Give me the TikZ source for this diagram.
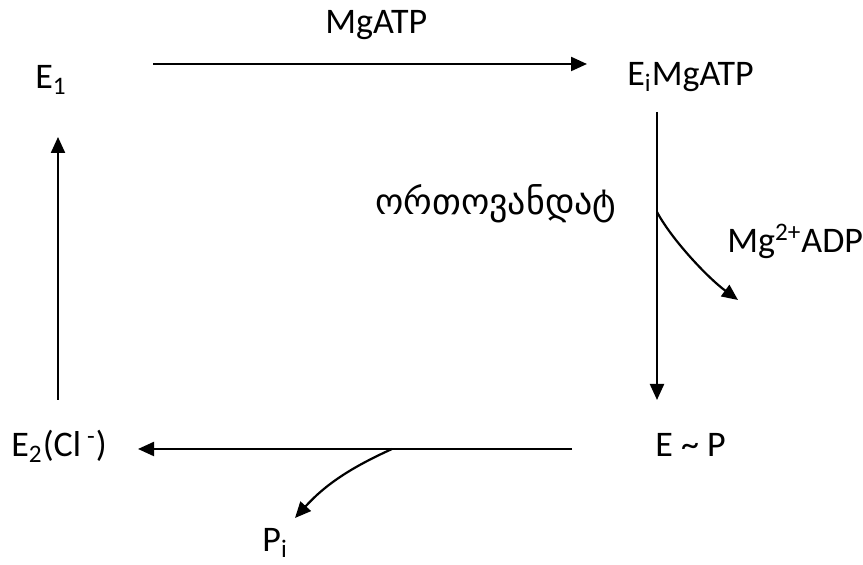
\documentclass[tikz,border=0pt]{standalone}
\usepackage{fontspec}
\setmainfont{Carlito}
\newfontfamily\geofont{DejaVu Sans}
\usetikzlibrary{arrows.meta}

\begin{document}
\begin{tikzpicture}[
  x=0.5pt, y=-0.5pt,
  every node/.style={inner sep=0pt, font=\fontsize{18}{21}\selectfont},
  lbl/.style={anchor=base west},
  arrow/.style={draw, line width=1.1pt, -{Triangle[length=8pt, width=7pt]}}]

  \useasboundingbox (0,0) rectangle (863,565);

  % --- the four states of the cycle ---
  \node[lbl] (e1)   at (35,89)   {E\textsubscript{1}};
  \node[lbl] (eimg) at (627,86)  {E\textsubscript{i}MgATP};
  \node[lbl] (ep)   at (655,457) {E \textasciitilde{} P};
  \node[lbl] (e2)   at (11,457)  {E\textsubscript{2}(Cl\,\textsuperscript{-})};

  % --- what enters and leaves ---
  \node[lbl] (mgatp) at (325,34)  {MgATP};
  \node[lbl] (orth)  at (375,215) {\geofont\fontsize{18}{21}\selectfont ორთოვანდატ};
  \node[lbl] (mgadp) at (727,253) {Mg\textsuperscript{2+}ADP};
  \node[lbl] (pi)    at (262,552) {P\textsubscript{i}};

  % --- arrow ends ---
  \coordinate (t1) at (153,64);  \coordinate (t2) at (587,64);
  \coordinate (r1) at (657,112); \coordinate (r2) at (657,400);
  \coordinate (rb) at (657,212); \coordinate (rt) at (738,300);
  \coordinate (b1) at (572,449); \coordinate (b2) at (138,449);
  \coordinate (bb) at (392,449); \coordinate (bt) at (295,518);
  \coordinate (l1) at (58,400);  \coordinate (l2) at (58,137);

  % --- the cycle ---
  \draw[arrow] (t1) -- (t2);
  \draw[arrow] (r1) -- (r2);
  \draw[arrow] (b1) -- (b2);
  \draw[arrow] (l1) -- (l2);

  % --- side branches ---
  \draw[arrow] (rb) .. controls (672,240) and (708,278) .. (rt);
  \draw[arrow] (bb) .. controls (350,468) and (325,485) .. (bt);

\end{tikzpicture}
\end{document}
